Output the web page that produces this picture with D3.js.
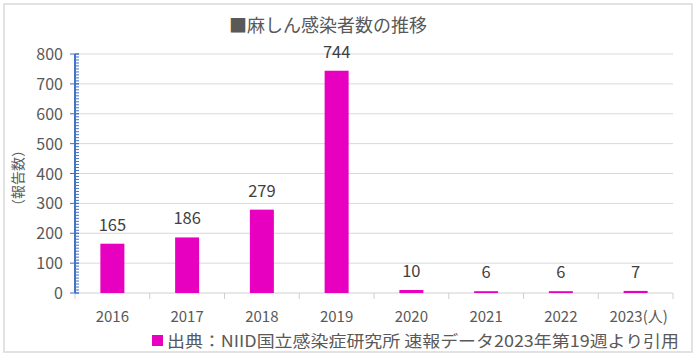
<!DOCTYPE html>
<html><head><meta charset="utf-8">
<script src="https://cdn.jsdelivr.net/npm/d3@7"></script>
<style>body{margin:0;background:#fff;}svg{display:block;font-family:"Noto Sans CJK JP","Noto Sans",sans-serif;}</style>
</head><body>
<script>
const years = ["2016","2017","2018","2019","2020","2021","2022","2023(人)"];
const cases = [165,186,279,744,10,6,6,7];
const yTicks = [0,100,200,300,400,500,600,700,800];
const titleText = "■麻しん感染者数の推移";
const yTitle = "（報告数）";
const legendText = "出典：NIID国立感染症研究所 速報データ2023年第19週より引用";

const W = 697, H = 356;
const m = {left:75, right:24, top:54, bottom:63};
const svg = d3.select("body").append("svg").attr("width",W).attr("height",H);
svg.append("rect").attr("x",4).attr("y",4).attr("width",688).attr("height",348)
  .attr("fill","#fff").attr("stroke","#d9d9d9").attr("stroke-width",1.5);

const x = d3.scaleBand().domain(years).range([m.left, W-m.right]).paddingInner(0).paddingOuter(0);
const y = d3.scaleLinear().domain([0,800]).range([H-m.bottom, m.top]);
const gray = "#595959", pink = "#E800C0", blue = "#4472C4";

// gridlines
svg.append("g").selectAll("line").data(yTicks.filter(d=>d>0)).join("line")
  .attr("x1",m.left).attr("x2",W-m.right).attr("y1",d=>y(d)).attr("y2",d=>y(d))
  .attr("stroke","#d9d9d9").attr("stroke-width",1);

// x axis
const xa = svg.append("g").attr("transform",`translate(0,${y(0)})`);
xa.append("line").attr("x1",m.left).attr("x2",W-m.right).attr("stroke","#d0d0d0");
const bounds = years.map(d=>x(d)).concat([x(years[years.length-1])+x.bandwidth()]);
xa.selectAll("line.t").data(bounds).join("line").attr("class","t")
  .attr("x1",d=>d).attr("x2",d=>d).attr("y1",0).attr("y2",6).attr("stroke","#d0d0d0");
xa.selectAll("text").data(years).join("text")
  .attr("x",d=>x(d)+x.bandwidth()/2+(d.length>4?3:0)).attr("y",29)
  .attr("text-anchor","middle").attr("fill",gray).attr("font-size",15).text(d=>d);

// bars
const bw = 24;
svg.append("g").selectAll("rect").data(cases).join("rect")
  .attr("x",(d,i)=>x(years[i])+x.bandwidth()/2-bw/2).attr("width",bw)
  .attr("y",d=>y(d)).attr("height",d=>Math.max(1.5,y(0)-y(d))).attr("fill",pink);
svg.append("g").selectAll("text").data(cases).join("text")
  .attr("x",(d,i)=>x(years[i])+x.bandwidth()/2).attr("y",d=>y(d)-13)
  .attr("text-anchor","middle").attr("fill","#404040").attr("font-size",16.5).text(d=>d);

// y axis
const ya = svg.append("g");
const minor = d3.range(0,801,10);
ya.selectAll("line.mn").data(minor).join("line").attr("class","mn")
  .attr("x1",m.left).attr("x2",m.left+4).attr("y1",d=>y(d)).attr("y2",d=>y(d))
  .attr("stroke",blue).attr("stroke-width",1);
ya.selectAll("line.mj").data(yTicks).join("line").attr("class","mj")
  .attr("x1",m.left-5).attr("x2",m.left+4).attr("y1",d=>y(d)).attr("y2",d=>y(d))
  .attr("stroke",blue).attr("stroke-width",1);
ya.append("line").attr("x1",m.left).attr("x2",m.left).attr("y1",y(0)).attr("y2",y(800))
  .attr("stroke",blue).attr("stroke-width",2);
ya.selectAll("text").data(yTicks).join("text")
  .attr("x",m.left-12).attr("y",d=>y(d)+6).attr("text-anchor","end")
  .attr("fill",gray).attr("font-size",16).text(d=>d);

// y title
svg.append("text").attr("transform","translate(23,178) rotate(-90)")
  .attr("text-anchor","middle").attr("fill",gray).attr("font-size",14).text(yTitle);

// title
svg.append("text").attr("x",328).attr("y",32).attr("text-anchor","middle")
  .attr("fill",gray).attr("font-size",18).text(titleText);

// legend
svg.append("rect").attr("x",152).attr("y",335).attr("width",11).attr("height",11).attr("fill",pink);
svg.append("text").attr("x",167).attr("y",347).attr("fill",gray).attr("font-size",16)
  .attr("textLength",512).attr("lengthAdjust","spacingAndGlyphs").text(legendText);
</script>
</body></html>
